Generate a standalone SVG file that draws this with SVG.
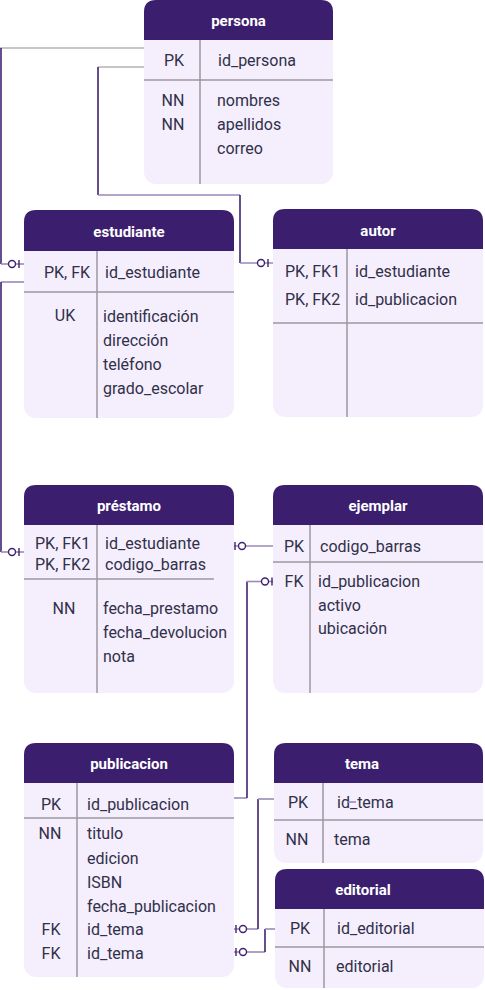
<svg xmlns="http://www.w3.org/2000/svg" xmlns:xlink="http://www.w3.org/1999/xlink" width="485" height="990" viewBox="0 0 485 990">
<style>
.body{fill:#f5eefc}
.head{fill:#3b1f6e}
.div{stroke:#9d97a1;stroke-width:1.5;fill:none}
.ht{font-family:Roboto,"Liberation Sans",sans-serif;font-size:15px;font-weight:bold;fill:#ffffff;text-anchor:middle}
.t{font-family:Roboto,"Liberation Sans",sans-serif;font-size:16px;fill:#30304a}
.c{text-anchor:middle}
.h{stroke:#9a89ba;stroke-width:1.6;fill:none}
.hg{stroke:#b3b3b3;stroke-width:1.6;fill:none}
.v{stroke:#3f2270;stroke-width:1.6;fill:none}
.mk circle{fill:#ffffff;stroke:#3f2270;stroke-width:1.4}
.mk line{stroke:#3f2270;stroke-width:1.4}
</style>
<defs>
<g id="oBar" class="mk"><circle cx="0" cy="0" r="3.5"/><line x1="7" y1="-4" x2="7" y2="4"/></g>
<g id="barO" class="mk"><line x1="-7" y1="-4" x2="-7" y2="4"/><circle cx="0" cy="0" r="3.5"/></g>
</defs>

<g id="connectors">
<!-- persona -> estudiante -->
<line class="hg" x1="0" y1="48" x2="144" y2="48"/>
<line class="v" x1="1" y1="48" x2="1" y2="264"/>
<line class="h" x1="1" y1="264" x2="24" y2="264"/>
<use xlink:href="#oBar" href="#oBar" x="12" y="264"/>
<!-- persona -> autor -->
<line class="hg" x1="98" y1="67" x2="144" y2="67"/>
<line class="v" x1="98" y1="67" x2="98" y2="195"/>
<line class="h" x1="98" y1="195" x2="240" y2="195"/>
<line class="v" x1="240" y1="195" x2="240" y2="263"/>
<line class="h" x1="240" y1="263" x2="273" y2="263"/>
<use xlink:href="#oBar" href="#oBar" x="261" y="263"/>
<!-- estudiante -> prestamo -->
<line class="h" x1="1" y1="282" x2="24" y2="282"/>
<line class="v" x1="1" y1="282" x2="1" y2="552"/>
<line class="h" x1="1" y1="552" x2="24" y2="552"/>
<use xlink:href="#oBar" href="#oBar" x="12" y="552"/>
<!-- prestamo -> ejemplar -->
<line class="h" x1="234" y1="546" x2="273" y2="546"/>
<use xlink:href="#barO" href="#barO" x="242" y="546"/>
<!-- publicacion -> ejemplar -->
<line class="h" x1="234" y1="798" x2="247" y2="798"/>
<line class="v" x1="247" y1="798" x2="247" y2="581.5"/>
<line class="h" x1="247" y1="581.5" x2="273" y2="581.5"/>
<use xlink:href="#oBar" href="#oBar" x="265" y="581.5"/>
<!-- publicacion -> tema -->
<line class="h" x1="234" y1="929" x2="258" y2="929"/>
<line class="v" x1="258" y1="929" x2="258" y2="799"/>
<line class="h" x1="258" y1="799" x2="274" y2="799"/>
<use xlink:href="#barO" href="#barO" x="243" y="929"/>
<!-- publicacion -> editorial -->
<line class="h" x1="234" y1="952" x2="265" y2="952"/>
<line class="v" x1="265" y1="952" x2="265" y2="929"/>
<line class="h" x1="265" y1="929" x2="275" y2="929"/>
<use xlink:href="#barO" href="#barO" x="243" y="952"/>
</g>

<g id="persona">
<rect class="body" x="144" y="0" width="189" height="184" rx="12"/>
<path class="head" d="M144,40V12Q144,0 156,0H321Q333,0 333,12V40Z"/>
<text class="ht" x="238.5" y="26">persona</text>
<line class="div" x1="200" y1="40" x2="200" y2="184"/>
<line class="div" x1="144" y1="80" x2="333" y2="80"/>
<text class="t c" x="174" y="65.5">PK</text>
<text class="t" x="218" y="65.5">id_persona</text>
<text class="t c" x="173" y="105.5">NN</text>
<text class="t c" x="173" y="130">NN</text>
<text class="t" x="217" y="105.5">nombres</text>
<text class="t" x="217" y="130">apellidos</text>
<text class="t" x="217" y="154">correo</text>
</g>

<g id="estudiante">
<rect class="body" x="24" y="210" width="210" height="208" rx="12"/>
<path class="head" d="M24,251V222Q24,210 36,210H222Q234,210 234,222V251Z"/>
<text class="ht" x="129" y="237">estudiante</text>
<line class="div" x1="97" y1="251" x2="97" y2="418"/>
<line class="div" x1="24" y1="292" x2="234" y2="292"/>
<text class="t c" x="67" y="277.5">PK, FK</text>
<text class="t" x="105" y="277.5">id_estudiante</text>
<text class="t c" x="65" y="320.5">UK</text>
<text class="t" x="103" y="321.5">identificación</text>
<text class="t" x="103" y="345.5">dirección</text>
<text class="t" x="103" y="369.5">teléfono</text>
<text class="t" x="103" y="393.5">grado_escolar</text>
</g>

<g id="autor">
<rect class="body" x="273" y="209" width="210" height="208" rx="12"/>
<path class="head" d="M273,249V221Q273,209 285,209H471Q483,209 483,221V249Z"/>
<text class="ht" x="378" y="236">autor</text>
<line class="div" x1="347" y1="249" x2="347" y2="417"/>
<line class="div" x1="273" y1="323" x2="483" y2="323"/>
<text class="t" x="285" y="276.5">PK, FK1</text>
<text class="t" x="285" y="304.5">PK, FK2</text>
<text class="t" x="355" y="276.5">id_estudiante</text>
<text class="t" x="355" y="304.5">id_publicacion</text>
</g>

<g id="prestamo">
<rect class="body" x="24" y="485" width="210" height="208" rx="12"/>
<path class="head" d="M24,525V497Q24,485 36,485H222Q234,485 234,497V525Z"/>
<text class="ht" x="129" y="511">préstamo</text>
<line class="div" x1="97" y1="525" x2="97" y2="693"/>
<line class="div" x1="24" y1="579" x2="214" y2="579"/>
<text class="t" x="35" y="548.5">PK, FK1</text>
<text class="t" x="35" y="570">PK, FK2</text>
<text class="t" x="105" y="548.5">id_estudiante</text>
<text class="t" x="105" y="570">codigo_barras</text>
<text class="t c" x="64" y="613.5">NN</text>
<text class="t" x="103" y="613.5">fecha_prestamo</text>
<text class="t" x="103" y="638">fecha_devolucion</text>
<text class="t" x="103" y="661.5">nota</text>
</g>

<g id="ejemplar">
<rect class="body" x="273" y="485" width="210" height="208" rx="12"/>
<path class="head" d="M273,525V497Q273,485 285,485H471Q483,485 483,497V525Z"/>
<text class="ht" x="378" y="511">ejemplar</text>
<line class="div" x1="310" y1="525" x2="310" y2="693"/>
<line class="div" x1="273" y1="562" x2="483" y2="562"/>
<text class="t c" x="294" y="551.5">PK</text>
<text class="t" x="320" y="551.5">codigo_barras</text>
<text class="t c" x="294" y="587">FK</text>
<text class="t" x="318" y="587">id_publicacion</text>
<text class="t" x="318" y="610.5">activo</text>
<text class="t" x="318" y="633.5">ubicación</text>
</g>

<g id="publicacion">
<rect class="body" x="24" y="743" width="210" height="234" rx="12"/>
<path class="head" d="M24,783V755Q24,743 36,743H222Q234,743 234,755V783Z"/>
<text class="ht" x="129" y="768.5">publicacion</text>
<line class="div" x1="77" y1="783" x2="77" y2="977"/>
<line class="div" x1="24" y1="818" x2="234" y2="818"/>
<text class="t c" x="51" y="809.5">PK</text>
<text class="t" x="87" y="809.5">id_publicacion</text>
<text class="t c" x="50" y="839">NN</text>
<text class="t" x="87" y="839">titulo</text>
<text class="t" x="87" y="863.5">edicion</text>
<text class="t" x="87" y="887.5">ISBN</text>
<text class="t" x="87" y="911.5">fecha_publicacion</text>
<text class="t c" x="51" y="935">FK</text>
<text class="t" x="87" y="935">id_tema</text>
<text class="t c" x="51" y="958.5">FK</text>
<text class="t" x="87" y="958.5">id_tema</text>
</g>

<g id="tema">
<rect class="body" x="274" y="743" width="209" height="120" rx="12"/>
<path class="head" d="M274,783V755Q274,743 286,743H471Q483,743 483,755V783Z"/>
<text class="ht" x="362" y="768.5">tema</text>
<line class="div" x1="323" y1="783" x2="323" y2="863"/>
<line class="div" x1="274" y1="820" x2="483" y2="820"/>
<text class="t c" x="298" y="807.5">PK</text>
<text class="t" x="337" y="807.5">id_tema</text>
<line class="h" x1="347" y1="802" x2="356" y2="802"/>
<text class="t c" x="297" y="844.5">NN</text>
<text class="t" x="334" y="844.5">tema</text>
</g>

<g id="editorial">
<rect class="body" x="275" y="869" width="209" height="119" rx="12"/>
<path class="head" d="M275,909V881Q275,869 287,869H472Q484,869 484,881V909Z"/>
<text class="ht" x="363" y="894.5">editorial</text>
<line class="div" x1="324" y1="909" x2="324" y2="988"/>
<line class="div" x1="275" y1="947" x2="484" y2="947"/>
<text class="t c" x="300" y="933.5">PK</text>
<text class="t" x="337" y="933.5">id_editorial</text>
<text class="t c" x="300" y="971.5">NN</text>
<text class="t" x="336" y="971.5">editorial</text>
</g>
</svg>
